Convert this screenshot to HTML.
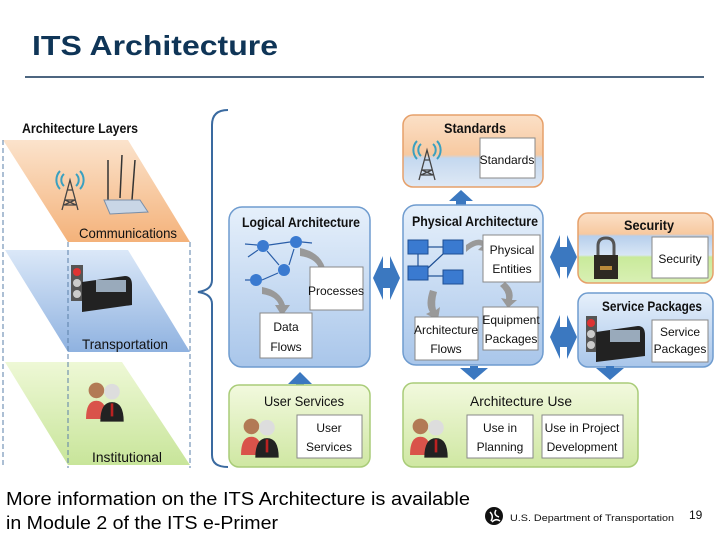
<!DOCTYPE html>
<html><head><meta charset="utf-8"><style>
html,body{margin:0;padding:0;background:#fff;}
svg{display:block;}
text{font-family:"Liberation Sans",sans-serif;}
.c{font-family:"Liberation Sans Narrow","Liberation Sans",sans-serif;fill:#111;}
</style></head><body>
<svg width="720" height="540" viewBox="0 0 720 540" xmlns="http://www.w3.org/2000/svg">
<defs>
<linearGradient id="bl" x1="0" y1="0" x2="0" y2="1"><stop offset="0" stop-color="#e6f0fb"/><stop offset="1" stop-color="#a9c6ea"/></linearGradient>
<linearGradient id="gr" x1="0" y1="0" x2="0" y2="1"><stop offset="0" stop-color="#f2f9de"/><stop offset="1" stop-color="#cfe7a2"/></linearGradient>
<linearGradient id="or" x1="0" y1="0" x2="0" y2="1"><stop offset="0" stop-color="#fbe0c7"/><stop offset="0.55" stop-color="#f7c9a0"/><stop offset="0.6" stop-color="#c4d8ef"/><stop offset="1" stop-color="#dfe9f5"/></linearGradient>
<linearGradient id="sec" x1="0" y1="0" x2="0" y2="1"><stop offset="0" stop-color="#fbe0c7"/><stop offset="0.3" stop-color="#f7c9a0"/><stop offset="0.33" stop-color="#b7cfec"/><stop offset="0.6" stop-color="#d8e6f5"/><stop offset="0.63" stop-color="#c9ea9a"/><stop offset="1" stop-color="#d9f0b5"/></linearGradient>
<linearGradient id="po" x1="0" y1="0" x2="0" y2="1"><stop offset="0" stop-color="#fbe3cc"/><stop offset="1" stop-color="#f4b27a"/></linearGradient>
<linearGradient id="pb" x1="0" y1="0" x2="0" y2="1"><stop offset="0" stop-color="#dbe8f8"/><stop offset="1" stop-color="#8fb2e0"/></linearGradient>
<linearGradient id="pg" x1="0" y1="0" x2="0" y2="1"><stop offset="0" stop-color="#eef8d6"/><stop offset="1" stop-color="#c8e59a"/></linearGradient>
<g id="ppl">
<circle cx="8" cy="8" r="6" fill="#b27a55"/><path d="M0 30 Q0 16 8 16 Q16 16 16 30Z" fill="#d9534a"/>
<circle cx="20" cy="9" r="6" fill="#ddd"/><path d="M11 32 Q11 17 20 17 Q29 17 29 32Z" fill="#222"/><rect x="19" y="18" width="2" height="10" fill="#b22"/>
</g>
<g id="tower" fill="none" stroke="#444" stroke-width="1.3">
<path d="M-8 30 L0 0 L8 30 M-5 20 L5 20 M-6 25 L6 25 M-3 10 L3 10 M-6 25 L5 20 M6 25 L-5 20"/>
<path d="M-6 -6 A8 8 0 0 0 -6 6 M6 -6 A8 8 0 0 1 6 6 M-10 -9 A13 13 0 0 0 -10 9 M10 -9 A13 13 0 0 1 10 9" stroke="#3aa0c0" stroke-width="2"/>
</g>
<path id="dbl" d="M0 0 L10 -22 L10 -10 L17 -10 L17 -22 L27 0 L17 22 L17 10 L10 10 L10 22Z" fill="#3b78c0"/>
</defs>

<text x="32" y="55" font-size="28" font-weight="bold" fill="#0f3557" textLength="246" lengthAdjust="spacingAndGlyphs">ITS Architecture</text>
<rect x="25" y="76" width="679" height="2" fill="#4d6680"/>

<text class="c" x="22" y="133" font-size="14" font-weight="bold" textLength="116" lengthAdjust="spacingAndGlyphs">Architecture Layers</text>
<polygon points="3,140 128,140 190,242 68,242" fill="url(#po)"/>
<polygon points="5,250 128,250 190,352 68,352" fill="url(#pb)"/>
<polygon points="5,362 122,362 190,465 68,465" fill="url(#pg)"/>
<g stroke="#5a7fa8" stroke-dasharray="5,3" stroke-width="1"><line x1="3" y1="140" x2="3" y2="465"/><line x1="68" y1="242" x2="68" y2="468"/><line x1="190" y1="242" x2="190" y2="468"/></g>
<use href="#tower" x="70" y="180"/>
<g><line x1="108" y1="200" x2="108" y2="160" stroke="#333" stroke-width="1.5"/><line x1="120" y1="198" x2="122" y2="155" stroke="#333" stroke-width="1.5"/><line x1="132" y1="200" x2="135" y2="160" stroke="#333" stroke-width="1.5"/><polygon points="104,200 140,200 148,212 110,214" fill="#c9d6e6" stroke="#7b8fa8"/></g>
<text class="c" x="79" y="238" font-size="14" textLength="98" lengthAdjust="spacingAndGlyphs">Communications</text>
<rect x="71" y="265" width="12" height="36" fill="#555"/><circle cx="77" cy="272" r="4" fill="#d33"/><circle cx="77" cy="283" r="4" fill="#ccc"/><circle cx="77" cy="294" r="4" fill="#ccc"/>
<path d="M82 282 L125 276 Q132 276 132 285 L132 305 L82 312Z" fill="#222"/><rect x="96" y="280" width="30" height="12" fill="#9ab"/>
<text class="c" x="82" y="349" font-size="14" textLength="86" lengthAdjust="spacingAndGlyphs">Transportation</text>
<use href="#ppl" transform="translate(86,380) scale(1.3)"/>
<text class="c" x="92" y="462" font-size="14" textLength="70" lengthAdjust="spacingAndGlyphs">Institutional</text>

<path d="M228 110 Q212 110 212 125 L212 280 Q212 290 198 292 Q212 294 212 304 L212 455 Q212 467 228 467" fill="none" stroke="#3a6aa0" stroke-width="2"/>

<rect x="229" y="207" width="141" height="160" rx="13" fill="url(#bl)" stroke="#6f9ccf" stroke-width="1.5"/>
<text class="c" x="242" y="227" font-size="14" font-weight="bold" textLength="118" lengthAdjust="spacingAndGlyphs">Logical Architecture</text>
<g fill="#3a7ad0"><circle cx="263" cy="246" r="6"/><circle cx="296" cy="242" r="6"/><circle cx="284" cy="270" r="6"/><circle cx="256" cy="280" r="6"/></g>
<g stroke="#2a5ea8" stroke-width="1.2" fill="none"><path d="M245 244 L257 245 M269 245 L290 242 M302 242 L312 243 M267 251 L279 265 M289 265 L294 249 M262 280 L278 273 M245 280 L250 280 M258 250 L248 257"/></g>
<path d="M300 248 Q320 252 325 268 L330 268 L322 280 L315 268 L319 268 Q315 258 300 256Z" fill="#999"/>
<path d="M262 287 Q280 290 285 305 L290 305 L282 316 L275 305 L279 305 Q276 296 262 294Z" fill="#999"/>
<rect x="310" y="267" width="53" height="43" fill="#fff" stroke="#888"/>
<text class="c" x="336" y="295" font-size="12" text-anchor="middle">Processes</text>
<rect x="260" y="313" width="52" height="45" fill="#fff" stroke="#888"/>
<text class="c" x="286" y="331" font-size="12" text-anchor="middle">Data</text>
<text class="c" x="286" y="351" font-size="12" text-anchor="middle">Flows</text>

<path d="M288 384 L300 372 L312 384 L304 384 L304 386 L296 386 L296 384Z" fill="#3b78c0"/>

<rect x="229" y="385" width="141" height="82" rx="10" fill="url(#gr)" stroke="#a9cc78" stroke-width="1.5"/>
<text class="c" x="264" y="406" font-size="14" textLength="80" lengthAdjust="spacingAndGlyphs">User Services</text>
<use href="#ppl" transform="translate(241,416) scale(1.3)"/>
<rect x="297" y="415" width="65" height="43" fill="#fff" stroke="#888"/>
<text class="c" x="329" y="432" font-size="12" text-anchor="middle">User</text>
<text class="c" x="329" y="451" font-size="12" text-anchor="middle">Services</text>

<use href="#dbl" x="373" y="278"/>
<use href="#dbl" x="550" y="257"/>
<use href="#dbl" x="550" y="337"/>

<rect x="403" y="115" width="140" height="72" rx="10" fill="url(#or)" stroke="#e6a06a" stroke-width="1.5"/>
<use href="#tower" x="427" y="150"/>
<text class="c" x="444" y="133" font-size="14" font-weight="bold" textLength="62" lengthAdjust="spacingAndGlyphs">Standards</text>
<rect x="480" y="138" width="55" height="40" fill="#fff" stroke="#888"/>
<text class="c" x="507" y="164" font-size="12" text-anchor="middle">Standards</text>
<path d="M461 190 L473 201 L466 201 L466 205 L456 205 L456 201 L449 201Z" fill="#3b78c0"/>

<rect x="403" y="205" width="140" height="160" rx="13" fill="url(#bl)" stroke="#6f9ccf" stroke-width="1.5"/>
<text class="c" x="412" y="226" font-size="14" font-weight="bold" textLength="126" lengthAdjust="spacingAndGlyphs">Physical Architecture</text>
<g fill="#3a7ad0" stroke="#1e4f94"><rect x="408" y="240" width="20" height="14"/><rect x="443" y="240" width="20" height="14"/><rect x="408" y="266" width="20" height="14"/><rect x="443" y="270" width="20" height="14"/></g>
<g stroke="#1e4f94" stroke-width="1.2"><line x1="428" y1="247" x2="443" y2="247"/><line x1="428" y1="276" x2="443" y2="276"/><line x1="418" y1="266" x2="418" y2="254"/><line x1="428" y1="268" x2="443" y2="254"/></g>
<path d="M466 245 Q478 236 485 242 L488 238 L490 252 L478 250 L482 246 Q476 243 466 252Z" fill="#999"/>
<path d="M430 290 Q425 305 430 312 L426 314 L438 320 L440 307 L436 310 Q434 302 437 292Z" fill="#999"/>
<path d="M505 282 Q515 290 512 300 L517 300 L508 308 L501 298 L506 299 Q507 292 500 286Z" fill="#999"/>
<rect x="483" y="235" width="57" height="47" fill="#fff" stroke="#888"/>
<text class="c" x="512" y="254" font-size="12" text-anchor="middle">Physical</text>
<text class="c" x="512" y="273" font-size="12" text-anchor="middle">Entities</text>
<rect x="483" y="307" width="55" height="43" fill="#fff" stroke="#888"/>
<text class="c" x="511" y="324" font-size="12" text-anchor="middle">Equipment</text>
<text class="c" x="511" y="343" font-size="12" text-anchor="middle">Packages</text>
<rect x="415" y="317" width="63" height="43" fill="#fff" stroke="#888"/>
<text class="c" x="446" y="334" font-size="12" text-anchor="middle">Architecture</text>
<text class="c" x="446" y="353" font-size="12" text-anchor="middle">Flows</text>

<rect x="578" y="213" width="135" height="70" rx="10" fill="url(#sec)" stroke="#e6a06a" stroke-width="1.5"/>
<text class="c" x="624" y="230" font-size="14" font-weight="bold" textLength="50" lengthAdjust="spacingAndGlyphs">Security</text>
<path d="M598 256 L598 246 Q598 238 606 238 Q614 238 614 246 L614 256" fill="none" stroke="#555" stroke-width="3"/>
<rect x="594" y="255" width="24" height="24" fill="#2e2a22"/><rect x="600" y="266" width="12" height="4" fill="#b98a3a"/>
<rect x="652" y="237" width="56" height="41" fill="#fff" stroke="#888"/>
<text class="c" x="680" y="263" font-size="12" text-anchor="middle">Security</text>

<rect x="578" y="293" width="135" height="74" rx="10" fill="url(#bl)" stroke="#6f9ccf" stroke-width="1.5"/>
<text class="c" x="602" y="311" font-size="14" font-weight="bold" textLength="100" lengthAdjust="spacingAndGlyphs">Service Packages</text>
<rect x="586" y="316" width="11" height="36" fill="#555"/><circle cx="591" cy="323" r="4" fill="#d33"/><circle cx="591" cy="334" r="4" fill="#ccc"/><circle cx="591" cy="345" r="4" fill="#ccc"/>
<path d="M596 332 L638 326 Q645 326 645 335 L645 356 L596 362Z" fill="#222"/><rect x="610" y="330" width="30" height="12" fill="#9ab"/>
<rect x="652" y="320" width="56" height="42" fill="#fff" stroke="#888"/>
<text class="c" x="680" y="336" font-size="12" text-anchor="middle">Service</text>
<text class="c" x="680" y="353" font-size="12" text-anchor="middle">Packages</text>

<path d="M460 368 L470 368 L470 366 L478 366 L478 368 L488 368 L474 380Z" fill="#3b78c0"/>
<path d="M596 368 L606 368 L606 366 L614 366 L614 368 L624 368 L610 380Z" fill="#3b78c0"/>

<rect x="403" y="383" width="235" height="84" rx="10" fill="url(#gr)" stroke="#a9cc78" stroke-width="1.5"/>
<text class="c" x="470" y="406" font-size="14" textLength="102" lengthAdjust="spacingAndGlyphs">Architecture Use</text>
<use href="#ppl" transform="translate(410,416) scale(1.3)"/>
<rect x="467" y="415" width="66" height="43" fill="#fff" stroke="#888"/>
<text class="c" x="500" y="432" font-size="12" text-anchor="middle">Use in</text>
<text class="c" x="500" y="451" font-size="12" text-anchor="middle">Planning</text>
<rect x="542" y="415" width="81" height="43" fill="#fff" stroke="#888"/>
<text class="c" x="582" y="432" font-size="12" text-anchor="middle">Use in Project</text>
<text class="c" x="582" y="451" font-size="12" text-anchor="middle">Development</text>

<text x="6" y="505" font-size="18" fill="#000" textLength="464" lengthAdjust="spacingAndGlyphs">More information on the ITS Architecture is available</text>
<text x="6" y="529" font-size="18" fill="#000" textLength="272" lengthAdjust="spacingAndGlyphs">in Module 2 of the ITS e-Primer</text>
<circle cx="494" cy="516" r="9" fill="#111"/>
<path d="M490 512 Q494 516 491 521 M496 510 Q493 515 499 517 M492 522 Q496 518 500 521" stroke="#fff" stroke-width="1.5" fill="none"/>
<text x="510" y="521" font-size="9" fill="#111" textLength="164" lengthAdjust="spacingAndGlyphs">U.S. Department of Transportation</text>
<text x="689" y="519" font-size="12" fill="#111">19</text>
</svg>
</body></html>
